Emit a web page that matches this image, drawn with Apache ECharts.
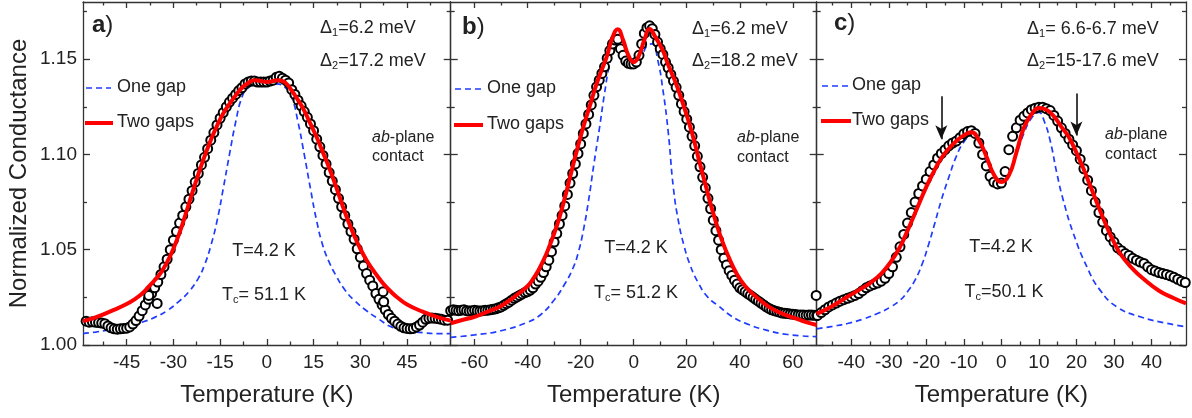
<!DOCTYPE html>
<html>
<head>
<meta charset="utf-8">
<script src="https://cdn.jsdelivr.net/npm/echarts@6/dist/echarts.min.js"></script>
<style>html,body{margin:0;padding:0;background:#fff}#chart{width:1192px;height:418px}</style>
</head>
<body>
<div id="chart"></div>
<script>
// ---------- axis ranges and ticks ----------
const yRange = [1.00, 1.18];
const yMajors = [1.00, 1.05, 1.10, 1.15];
const yMinors = [1.025, 1.075, 1.125, 1.175];

const xRangeA = [-59, 59];
const xMajorsA = [-45, -30, -15, 0, 15, 30, 45];
const xMinorsA = [-52.5, -37.5, -22.5, -7.5, 7.5, 22.5, 37.5, 52.5];
const xRangeB = [-69, 69];
const xMajorsB = [-60, -40, -20, 0, 20, 40, 60];
const xMinorsB = [-50, -30, -10, 10, 30, 50];
const xRangeC = [-49.2, 49.2];
const xMajorsC = [-40, -30, -20, -10, 0, 10, 20, 30, 40];
const xMinorsC = [-45, -35, -25, -15, -5, 5, 15, 25, 35, 45];

// ---------- panel a ----------
const dataA = [[-58,1.0125],[-57,1.012],[-56,1.0122],[-55,1.012],[-54,1.0118],[-53,1.0115],[-52,1.0112],[-51,1.010],[-50,1.009],[-49,1.0085],[-48,1.0083],[-47,1.0085],[-46,1.0087],[-45,1.0088],[-44,1.0095],[-43,1.011],[-42,1.0128],[-41,1.0152],[-40,1.018],[-39,1.021],[-38,1.024],[-37,1.027],[-36,1.030],[-35,1.033],[-34,1.037],[-33,1.041],[-32,1.045],[-31,1.050],[-30,1.055],[-29,1.0595],[-28,1.064],[-27,1.068],[-26,1.0725],[-25,1.0765],[-24,1.081],[-23,1.0855],[-22,1.090],[-21,1.0945],[-20,1.0985],[-19,1.103],[-18,1.1075],[-17,1.1115],[-16,1.1155],[-15,1.119],[-14,1.122],[-13,1.125],[-12,1.1275],[-11,1.1295],[-10,1.1315],[-9,1.1335],[-8,1.135],[-7,1.137],[-6,1.138],[-5,1.1385],[-4,1.1385],[-3,1.138],[-2,1.138],[-1,1.138],[0,1.138],[1,1.1385],[2,1.139],[3,1.1405],[4,1.141],[5,1.140],[6,1.139],[7,1.1375],[8,1.134],[9,1.1315],[10,1.1285],[11,1.1255],[12,1.1225],[13,1.1195],[14,1.116],[15,1.1125],[16,1.108],[17,1.104],[18,1.0995],[19,1.095],[20,1.0905],[21,1.086],[22,1.0815],[23,1.077],[24,1.0725],[25,1.068],[26,1.0635],[27,1.0595],[28,1.0555],[29,1.0505],[30,1.046],[31,1.0415],[32,1.0375],[33,1.034],[34,1.031],[35,1.027],[36,1.024],[37,1.021],[38,1.0185],[39,1.016],[40,1.014],[41,1.0125],[42,1.011],[43,1.0098],[44,1.009],[45,1.0087],[46,1.0085],[47,1.0087],[48,1.0095],[49,1.0105],[50,1.012],[51,1.0135],[52,1.014],[53,1.0142],[54,1.014],[55,1.0138],[56,1.0135],[57,1.013],[58,1.013],
  [-37.9,1.026],[-35.2,1.0218],[37.3,1.028],[37.5,1.0227]];
const oneGapA = [[-59,1.006],[-55,1.0068],[-50,1.0082],[-45,1.0098],[-40,1.012],[-36,1.0145],[-32,1.018],[-28,1.0232],[-25,1.028],[-22,1.035],[-20,1.042],[-18,1.052],[-16,1.065],[-14,1.082],[-12,1.100],[-10,1.117],[-8,1.130],[-6,1.135],[-3,1.137],[0,1.137],[3,1.137],[6,1.135],[8,1.130],[10,1.117],[12,1.100],[14,1.082],[16,1.065],[18,1.052],[20,1.0435],[22,1.037],[25,1.029],[28,1.0235],[32,1.018],[36,1.0135],[40,1.0095],[45,1.0075],[50,1.0065],[55,1.006],[59,1.006]];
const twoGapsA = [[-59,1.0125],[-55,1.0145],[-50,1.0178],[-45,1.0215],[-42,1.0245],[-40,1.027],[-38,1.0305],[-36,1.034],[-34,1.038],[-32,1.0435],[-30,1.0505],[-28,1.059],[-26,1.069],[-24,1.0795],[-22,1.0895],[-20,1.099],[-18,1.1075],[-16,1.115],[-14,1.1215],[-12,1.1265],[-10,1.131],[-8,1.135],[-6,1.1375],[-4,1.139],[-2,1.1385],[0,1.138],[2,1.1385],[4,1.139],[6,1.1375],[8,1.1335],[10,1.1285],[12,1.123],[14,1.116],[16,1.109],[18,1.101],[20,1.093],[22,1.084],[24,1.0745],[26,1.0655],[28,1.0575],[30,1.0505],[32,1.0445],[34,1.0395],[36,1.035],[38,1.031],[40,1.0277],[42,1.0248],[45,1.0213],[50,1.0175],[55,1.0145],[59,1.0128]];

// ---------- panel b ----------
const dataB = [[-69,1.018],[-68,1.0185],[-67,1.0182],[-66,1.018],[-65,1.0183],[-64,1.0185],[-63,1.018],[-62,1.0178],[-61,1.018],[-60,1.0182],[-59,1.018],[-58,1.0178],[-57,1.018],[-56,1.0182],[-55,1.0183],[-54,1.0185],[-53,1.0187],[-52,1.019],[-51,1.0195],[-50,1.020],[-49,1.0208],[-48,1.0217],[-47,1.0225],[-46,1.0235],[-45,1.0245],[-44,1.0252],[-43,1.026],[-42,1.0268],[-41,1.0275],[-40,1.028],[-39,1.0288],[-38,1.030],[-37,1.032],[-36,1.0335],[-35,1.0355],[-34,1.038],[-33,1.041],[-32,1.0445],[-31,1.049],[-30,1.054],[-29,1.0585],[-28,1.0635],[-27,1.068],[-26,1.073],[-25,1.079],[-24,1.085],[-23,1.090],[-22,1.095],[-21,1.1005],[-20,1.1055],[-19,1.111],[-18,1.116],[-17,1.121],[-16,1.126],[-15,1.131],[-14,1.1355],[-13,1.139],[-12,1.1425],[-11,1.146],[-10,1.1505],[-9,1.1545],[-8,1.158],[-7,1.160],[-6,1.1605],[-5,1.1555],[-4,1.152],[-3,1.149],[-2,1.1478],[-1,1.1475],[0,1.1475],[1,1.1485],[2,1.152],[3,1.158],[4,1.1635],[5,1.1665],[6,1.1675],[7,1.166],[8,1.163],[9,1.159],[10,1.1555],[11,1.1525],[12,1.1485],[13,1.1455],[14,1.142],[15,1.1385],[16,1.1352],[17,1.131],[18,1.1265],[19,1.1225],[20,1.1185],[21,1.1143],[22,1.1095],[23,1.1045],[24,1.099],[25,1.0935],[26,1.088],[27,1.0825],[28,1.077],[29,1.0715],[30,1.0655],[31,1.060],[32,1.055],[33,1.050],[34,1.0455],[35,1.042],[36,1.039],[37,1.0365],[38,1.034],[39,1.032],[40,1.030],[41,1.029],[42,1.028],[43,1.027],[44,1.026],[45,1.025],[46,1.024],[47,1.023],[48,1.022],[49,1.021],[50,1.020],[51,1.0192],[52,1.0185],[53,1.018],[54,1.0176],[55,1.0172],[56,1.0168],[57,1.0166],[58,1.0165],[59,1.0163],[60,1.0162],[61,1.016],[62,1.0158],[63,1.0157],[64,1.0157],[65,1.0156],[66,1.0157],[67,1.0157],[68,1.0156],[69,1.0155],[68.8,1.026]];
const oneGapB = [[-69,1.004],[-60,1.0053],[-50,1.0075],[-40,1.012],[-35,1.016],[-30,1.0236],[-26,1.032],[-23,1.040],[-21,1.048],[-19,1.060],[-17,1.076],[-15,1.095],[-13,1.113],[-11,1.132],[-9,1.148],[-7,1.157],[-5,1.157],[-3,1.152],[0,1.149],[3,1.152],[5,1.157],[7,1.158],[9,1.150],[11,1.134],[13,1.112],[15,1.082],[17,1.064],[19,1.052],[21,1.043],[24,1.0335],[28,1.025],[32,1.0205],[37,1.015],[42,1.0115],[50,1.0078],[58,1.0055],[69,1.0044]];
const twoGapsB = [[-69,1.0114],[-65,1.013],[-60,1.0148],[-55,1.0175],[-50,1.0205],[-45,1.0253],[-40,1.031],[-38,1.0345],[-36,1.039],[-34,1.0445],[-32,1.051],[-30,1.0585],[-28,1.067],[-26,1.077],[-24,1.088],[-22,1.099],[-20,1.1095],[-18,1.119],[-16,1.128],[-14,1.137],[-12,1.1445],[-10,1.152],[-8,1.1614],[-6,1.1657],[-4,1.160],[-2,1.152],[0,1.1485],[2,1.152],[4,1.160],[6,1.1658],[8,1.162],[11,1.1545],[13,1.147],[16,1.137],[18,1.129],[21,1.116],[23,1.106],[25,1.095],[27,1.0845],[29,1.074],[31,1.0645],[33,1.056],[36,1.0455],[39,1.037],[42,1.031],[46,1.0255],[51,1.020],[56,1.0165],[61,1.014],[65,1.012],[69,1.0105]];

// ---------- panel c ----------
const dataC = [[-49,1.0155],[-48,1.017],[-47,1.0185],[-46,1.020],[-45,1.021],[-44,1.022],[-43,1.023],[-42,1.0238],[-41,1.0245],[-40,1.0252],[-39,1.026],[-38,1.027],[-37,1.0285],[-36,1.030],[-35,1.031],[-34,1.0318],[-33,1.0325],[-32,1.0335],[-31,1.035],[-30,1.0375],[-29,1.041],[-28,1.046],[-27,1.0515],[-26,1.058],[-25,1.064],[-24,1.0695],[-23,1.075],[-22,1.0795],[-21,1.0835],[-20,1.087],[-19,1.091],[-18,1.0945],[-17,1.098],[-16,1.1005],[-15,1.1025],[-14,1.1045],[-13,1.106],[-12,1.107],[-11,1.1088],[-10,1.1108],[-9,1.112],[-8,1.1125],[-7,1.111],[-6,1.106],[-5,1.100],[-4,1.094],[-3,1.0885],[-2,1.0855],[-1,1.0845],[0,1.085],[1,1.091],[2,1.1025],[3,1.1095],[4,1.114],[5,1.118],[6,1.120],[7,1.1218],[8,1.1235],[9,1.1243],[10,1.1248],[11,1.1248],[12,1.124],[13,1.123],[14,1.1205],[15,1.1175],[16,1.114],[17,1.111],[18,1.108],[19,1.105],[20,1.102],[21,1.0975],[22,1.0925],[23,1.0865],[24,1.081],[25,1.075],[26,1.0695],[27,1.0645],[28,1.060],[29,1.0567],[30,1.054],[31,1.051],[32,1.0495],[33,1.048],[34,1.047],[35,1.0455],[36,1.0445],[37,1.0435],[38,1.0428],[39,1.041],[40,1.0395],[41,1.0388],[42,1.038],[43,1.0375],[44,1.037],[45,1.0363],[46,1.0355],[47,1.0345],[48,1.0335],[49,1.0328]];
const oneGapC = [[-49.2,1.0085],[-45,1.0098],[-41,1.0113],[-37,1.0135],[-33,1.0165],[-29.5,1.020],[-27,1.0235],[-25,1.028],[-23,1.034],[-21,1.043],[-19.5,1.052],[-18,1.062],[-16,1.076],[-14,1.088],[-12,1.099],[-10,1.1065],[-8,1.110],[-6,1.105],[-4,1.096],[-2,1.088],[0,1.085],[2,1.089],[4,1.100],[6,1.111],[8,1.119],[10,1.122],[11.5,1.117],[13,1.1073],[14.8,1.090],[16.5,1.076],[19.2,1.0585],[22.8,1.041],[26.3,1.0288],[30.8,1.020],[37,1.0148],[44,1.0114],[49.2,1.0096]];
const twoGapsC = [[-49.2,1.0163],[-45,1.0205],[-41,1.0253],[-38,1.0288],[-35,1.0325],[-32,1.0375],[-29.5,1.0435],[-27,1.0515],[-25,1.060],[-22.5,1.0715],[-20,1.083],[-18,1.091],[-16,1.098],[-14,1.103],[-12,1.107],[-10,1.110],[-8,1.1117],[-6,1.1075],[-4,1.099],[-2,1.0895],[0,1.0855],[2,1.089],[4,1.101],[6,1.114],[8,1.121],[10,1.1244],[12,1.1235],[14,1.120],[16,1.1145],[18,1.109],[20,1.101],[22,1.092],[24,1.082],[26,1.072],[28,1.0625],[30,1.054],[32,1.047],[35,1.040],[38,1.0345],[42,1.0285],[46,1.0245],[49.2,1.0218]];
// arrows in panel c: [T, from G, to G]
const arrowsC = [[-16, 1.1305, 1.108], [20, 1.132, 1.110]];

// ---------- labels ----------
const panelLetters = ['a', 'b', 'c'];
const gap1Texts = ['=6.2 meV', '=6.2 meV', '= 6.6-6.7 meV'];
const gap2Texts = ['=17.2 meV', '=18.2 meV', '=15-17.6 meV'];
const tcTexts = ['= 51.1 K', '= 51.2 K', '=50.1 K'];
const tempText = 'T=4.2 K';
const legendNames = ['One gap', 'Two gaps'];

// ---------- layout (pixels) ----------
const FONT = 'Liberation Sans, Arial, Helvetica, sans-serif';
const TXT = '#222';
const AX = '#333';
const BLUE = '#1f3cff';
const RED = '#ff0000';
const grids = [
  {left: 83, top: 2, width: 367.7, height: 343},
  {left: 450.7, top: 2, width: 366, height: 343},
  {left: 816.7, top: 2, width: 369.3, height: 343}
];
const xSpecs = [
  {range: xRangeA, majors: xMajorsA, minors: xMinorsA},
  {range: xRangeB, majors: xMajorsB, minors: xMinorsB},
  {range: xRangeC, majors: xMajorsC, minors: xMinorsC}
];
const panelData = [
  {data: dataA, one: oneGapA, two: twoGapsA},
  {data: dataB, one: oneGapB, two: twoGapsB},
  {data: dataC, one: oneGapC, two: twoGapsC}
];
// annotation positions per panel
const pos = [
  {letter: [92, 25], d1: [320, 28], d2: [320, 61], ab: [372, 138], ct: [372, 157], t: [264, 251], tc: [264, 295],
   leg: {x1: 86, x2: 111, y1: 88, y2: 123, tx: 117}},
  {letter: [462, 27], d1: [692, 29], d2: [692, 61], ab: [737, 138], ct: [737, 158], t: [636, 248], tc: [636, 293],
   leg: {x1: 455, x2: 481, y1: 89, y2: 125, tx: 487}},
  {letter: [834, 23], d1: [1027, 29], d2: [1027, 61], ab: [1105, 135], ct: [1105, 155], t: [1001, 247], tc: [1004, 292],
   leg: {x1: 822, x2: 849, y1: 86, y2: 121, tx: 852}}
];

const lineSt = {color: AX, width: 1.3};
function makeXAxes(g) {
  const s = xSpecs[g];
  const base = {gridIndex: g, type: 'value', min: s.range[0], max: s.range[1], splitLine: {show: false}, silent: true};
  return [
    Object.assign({}, base, {position: 'bottom', axisLine: {show: true, onZero: false, lineStyle: lineSt},
      axisTick: {show: true, inside: true, length: 6, customValues: s.majors, lineStyle: lineSt},
      axisLabel: {show: true, customValues: s.majors, margin: 8, fontSize: 19, color: TXT, fontFamily: FONT, formatter: v => String(v)},
      name: 'Temperature (K)', nameLocation: 'middle', nameGap: 38,
      nameTextStyle: {fontSize: 24, color: TXT, fontFamily: FONT}}),
    Object.assign({}, base, {position: 'bottom', axisLine: {show: false, onZero: false},
      axisTick: {show: true, inside: true, length: 3.5, customValues: s.minors, lineStyle: lineSt}, axisLabel: {show: false}}),
    Object.assign({}, base, {position: 'top', axisLine: {show: true, onZero: false, lineStyle: lineSt},
      axisTick: {show: true, inside: true, length: 6, customValues: s.majors, lineStyle: lineSt}, axisLabel: {show: false}}),
    Object.assign({}, base, {position: 'top', axisLine: {show: false, onZero: false},
      axisTick: {show: true, inside: true, length: 3.5, customValues: s.minors, lineStyle: lineSt}, axisLabel: {show: false}})
  ];
}
function makeYAxes(g) {
  const base = {gridIndex: g, type: 'value', min: yRange[0], max: yRange[1], splitLine: {show: false}, silent: true};
  const main = Object.assign({}, base, {position: 'left', axisLine: {show: true, onZero: false, lineStyle: lineSt},
      axisTick: {show: true, inside: true, length: 7, customValues: yMajors, lineStyle: lineSt},
      axisLabel: {show: g === 0, customValues: yMajors, margin: 6, fontSize: 19, color: TXT, fontFamily: FONT, formatter: v => v.toFixed(2)}});
  if (g === 0) {
    main.name = 'Normalized Conductance';
    main.nameLocation = 'middle';
    main.nameGap = 52;
    main.nameTextStyle = {fontSize: 24, color: TXT, fontFamily: FONT};
  }
  return [
    main,
    Object.assign({}, base, {position: 'left', axisLine: {show: false, onZero: false},
      axisTick: {show: true, inside: true, length: 4, customValues: yMinors, lineStyle: lineSt}, axisLabel: {show: false}}),
    Object.assign({}, base, {position: 'right', axisLine: {show: true, onZero: false, lineStyle: lineSt},
      axisTick: {show: true, inside: true, length: 7, customValues: yMajors, lineStyle: lineSt}, axisLabel: {show: false}}),
    Object.assign({}, base, {position: 'right', axisLine: {show: false, onZero: false},
      axisTick: {show: true, inside: true, length: 4, customValues: yMinors, lineStyle: lineSt}, axisLabel: {show: false}})
  ];
}

const xAxis = [], yAxis = [], series = [], graphic = [];
for (let g = 0; g < 3; g++) {
  xAxis.push(...makeXAxes(g));
  yAxis.push(...makeYAxes(g));
  const pd = panelData[g];
  series.push({
    name: legendNames[0], type: 'line', xAxisIndex: 4 * g, yAxisIndex: 4 * g, data: pd.one,
    showSymbol: false, symbol: 'none', smooth: 0.5, z: 2,
    lineStyle: {color: BLUE, width: 1.7, type: [6, 4]}, itemStyle: {color: BLUE}, silent: true
  });
  series.push({
    name: 'Data', type: 'scatter', xAxisIndex: 4 * g, yAxisIndex: 4 * g, data: pd.data,
    symbol: 'emptyCircle', symbolSize: 9, z: 3,
    itemStyle: {color: '#000', borderColor: '#000', borderWidth: 2, opacity: 1}, silent: true
  });
  const red = {
    name: legendNames[1], type: 'line', xAxisIndex: 4 * g, yAxisIndex: 4 * g, data: pd.two,
    showSymbol: false, symbol: 'none', smooth: 0.5, z: 4,
    lineStyle: {color: RED, width: 4}, itemStyle: {color: RED}, silent: true
  };
  if (g === 2) {
    red.markLine = {
      silent: true, symbol: ['none', 'arrow'], symbolSize: [9, 14], animation: false,
      lineStyle: {color: '#111', width: 1.6, type: 'solid'}, label: {show: false},
      data: arrowsC.map(a => [{coord: [a[0], a[1]]}, {coord: [a[0], a[2]]}])
    };
  }
  series.push(red);

  const p = pos[g];
  const rich = {
    b: {fontSize: 24, fontWeight: 'bold', fontFamily: FONT, fill: TXT, color: TXT},
    n: {fontSize: 24, fontFamily: FONT, fill: TXT, color: TXT},
    m: {fontSize: 18, fontFamily: FONT, fill: TXT, color: TXT},
    s: {fontSize: 11, fontFamily: FONT, fill: TXT, color: TXT, padding: [10, 0, 0, 0]},
    i: {fontSize: 16, fontStyle: 'italic', fontFamily: FONT, fill: TXT, color: TXT},
    r: {fontSize: 16, fontFamily: FONT, fill: TXT, color: TXT}
  };
  const txt = (x, y, text, align) => ({
    type: 'text', x: x, y: y, silent: true,
    style: {text: text, rich: rich, align: align || 'left', verticalAlign: 'middle', font: '18px ' + FONT, fill: TXT}
  });
  // legend (per panel)
  graphic.push({type: 'line', silent: true, shape: {x1: p.leg.x1, y1: p.leg.y1, x2: p.leg.x2, y2: p.leg.y1},
    style: {stroke: BLUE, lineWidth: 1.7, lineDash: [6, 4]}});
  graphic.push({type: 'line', silent: true, shape: {x1: p.leg.x1 - 1, y1: p.leg.y2, x2: p.leg.x2 + 2, y2: p.leg.y2},
    style: {stroke: RED, lineWidth: 4}});
  graphic.push(txt(p.leg.tx, p.leg.y1 - 1, '{m|' + legendNames[0] + '}'));
  graphic.push(txt(p.leg.tx, p.leg.y2 - 1, '{m|' + legendNames[1] + '}'));

  graphic.push(txt(p.letter[0], p.letter[1], '{b|' + panelLetters[g] + '}{n|)}'));
  graphic.push(txt(p.d1[0], p.d1[1], '{m|\u0394}{s|1}{m|' + gap1Texts[g] + '}'));
  graphic.push(txt(p.d2[0], p.d2[1], '{m|\u0394}{s|2}{m|' + gap2Texts[g] + '}'));
  graphic.push(txt(p.ab[0], p.ab[1], '{i|ab}{r|-plane}'));
  graphic.push(txt(p.ct[0], p.ct[1], '{r|contact}'));
  graphic.push(txt(p.t[0], p.t[1], '{m|' + tempText + '}', 'center'));
  graphic.push(txt(p.tc[0], p.tc[1], '{m|T}{s|c}{m|' + tcTexts[g] + '}', 'center'));
}

const chart = echarts.init(document.getElementById('chart'), null, {renderer: 'canvas'});
chart.setOption({
  animation: false,
  backgroundColor: '#fff',
  grid: grids,
  xAxis: xAxis,
  yAxis: yAxis,
  series: series,
  graphic: graphic
});
</script>
</body>
</html>
